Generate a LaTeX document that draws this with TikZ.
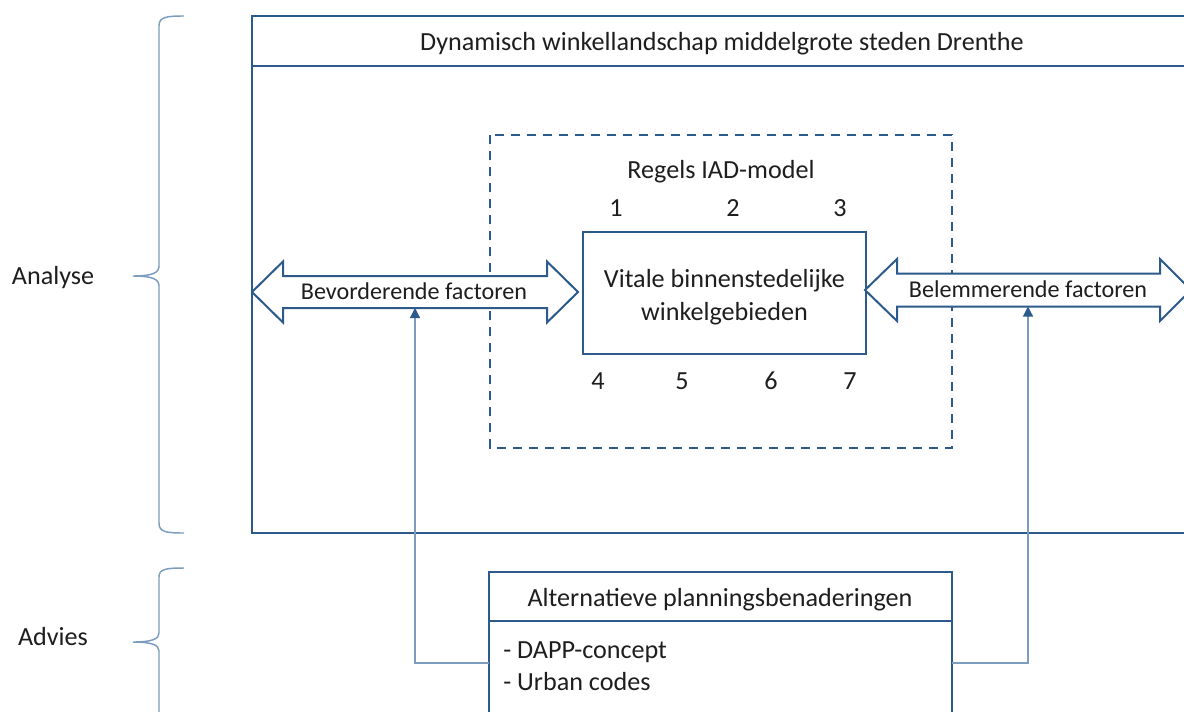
\documentclass[tikz,border=0pt]{standalone}
\usepackage{fontspec}
\setmainfont{Carlito}
\usetikzlibrary{arrows.meta}
\definecolor{frame}{HTML}{2C5A8A}
\definecolor{thinblue}{HTML}{7C9CC0}
\definecolor{ink}{HTML}{1E1E1E}
\begin{document}
\begin{tikzpicture}[x=0.75pt,y=-0.75pt,
  boxline/.style={draw=frame,line width=1.6pt},
  txt/.style={font=\fontsize{19.6}{24.75}\selectfont,text=ink,inner sep=0pt},
  lbl/.style={txt,text height=12.6pt,text depth=0pt},
  arrowlbl/.style={txt,font=\fontsize{18.1}{22}\selectfont,text height=11.7pt,text depth=0pt},
  feed/.style={draw=thinblue,line width=0.9pt,
    -{Triangle[length=7.5pt,width=7.5pt,color=frame]}},
  bracestyle/.style={draw=thinblue,line width=1.1pt},
  dbl/.style={draw=frame,line width=1.5pt,fill=white,line join=miter},
  dashbox/.style={draw=frame,line width=1.5pt,dash pattern=on 7pt off 5pt}]
\clip (0,0) rectangle (1184,711);
\fill[white] (0,0) rectangle (1184,711);

% outer frame with title bar
\draw[boxline] (252,16) rectangle (1210,533);
\draw[boxline] (252,66) -- (1210,66);
\node[lbl] (title) at (722,42) {Dynamisch winkellandschap middelgrote steden Drenthe};

% dashed rule area
\draw[dashbox] (490,135) rectangle (952,448);
\node[lbl] (rules) at (721,170) {Regels IAD-model};
\node[lbl] (n1) at (616,208) {1};
\node[lbl] (n2) at (733,208) {2};
\node[lbl] (n3) at (840,208) {3};
\node[lbl] (n4) at (598,381) {4};
\node[lbl] (n5) at (682,381) {5};
\node[lbl] (n6) at (771,381) {6};
\node[lbl] (n7) at (850,381) {7};

% core box
\node[boxline,minimum width=212.25pt,minimum height=91.5pt,fill=white]
  (core) at (724.5,293) {};
\node[txt,align=center] (coretxt) at (724.5,297.5) {Vitale binnenstedelijke\\winkelgebieden};

% promoting factors (double arrow)
\draw[dbl] (252,292) -- (283,261.5) -- (283,276) -- (547,276) -- (547,261.5)
  -- (578,292) -- (547,322.5) -- (547,308) -- (283,308) -- (283,322.5) -- cycle;
\node[arrowlbl] (bev) at (414,292) {Bevorderende factoren};
\coordinate (bevbot) at (415,308);

% hindering factors (double arrow)
\draw[dbl] (865,290) -- (897,259) -- (897,273.5) -- (1160,273.5) -- (1160,259)
  -- (1191,290) -- (1160,321) -- (1160,306.5) -- (897,306.5) -- (897,321) -- cycle;
\node[arrowlbl] (bel) at (1028,290) {Belemmerende factoren};
\coordinate (belbot) at (1028,306.5);

% advice box
\draw[boxline,fill=white] (489,572) rectangle (952,730);
\draw[boxline] (489,621) -- (952,621);
\node[lbl] (alt) at (720,598) {Alternatieve planningsbenaderingen};
\node[lbl,anchor=west] (dapp) at (503,650) {- DAPP-concept};
\node[lbl,anchor=west] (urban) at (503,682) {- Urban codes};
\coordinate (advL) at (489,663);
\coordinate (advR) at (952,663);

% feedback connectors
\draw[feed] (advL) -| (bevbot);
\draw[feed] (advR) -| (belbot);

% side braces and labels
\draw[bracestyle] (184,16) .. controls (166,16) and (159,17) .. (159,26)
  -- (159,266) .. controls (159,273) and (152,276) .. (133,276)
  .. controls (152,276) and (159,279) .. (159,286)
  -- (159,523) .. controls (159,532) and (166,533) .. (184,533);
\node[lbl] (analyse) at (53,276) {Analyse};

\draw[bracestyle] (184,568) .. controls (166,568) and (159,569) .. (159,577)
  -- (159,633) .. controls (159,639) and (152,642) .. (133,642)
  .. controls (152,642) and (159,645) .. (159,651) -- (159,730);
\node[lbl] (advies) at (53,637) {Advies};
\end{tikzpicture}
\end{document}
